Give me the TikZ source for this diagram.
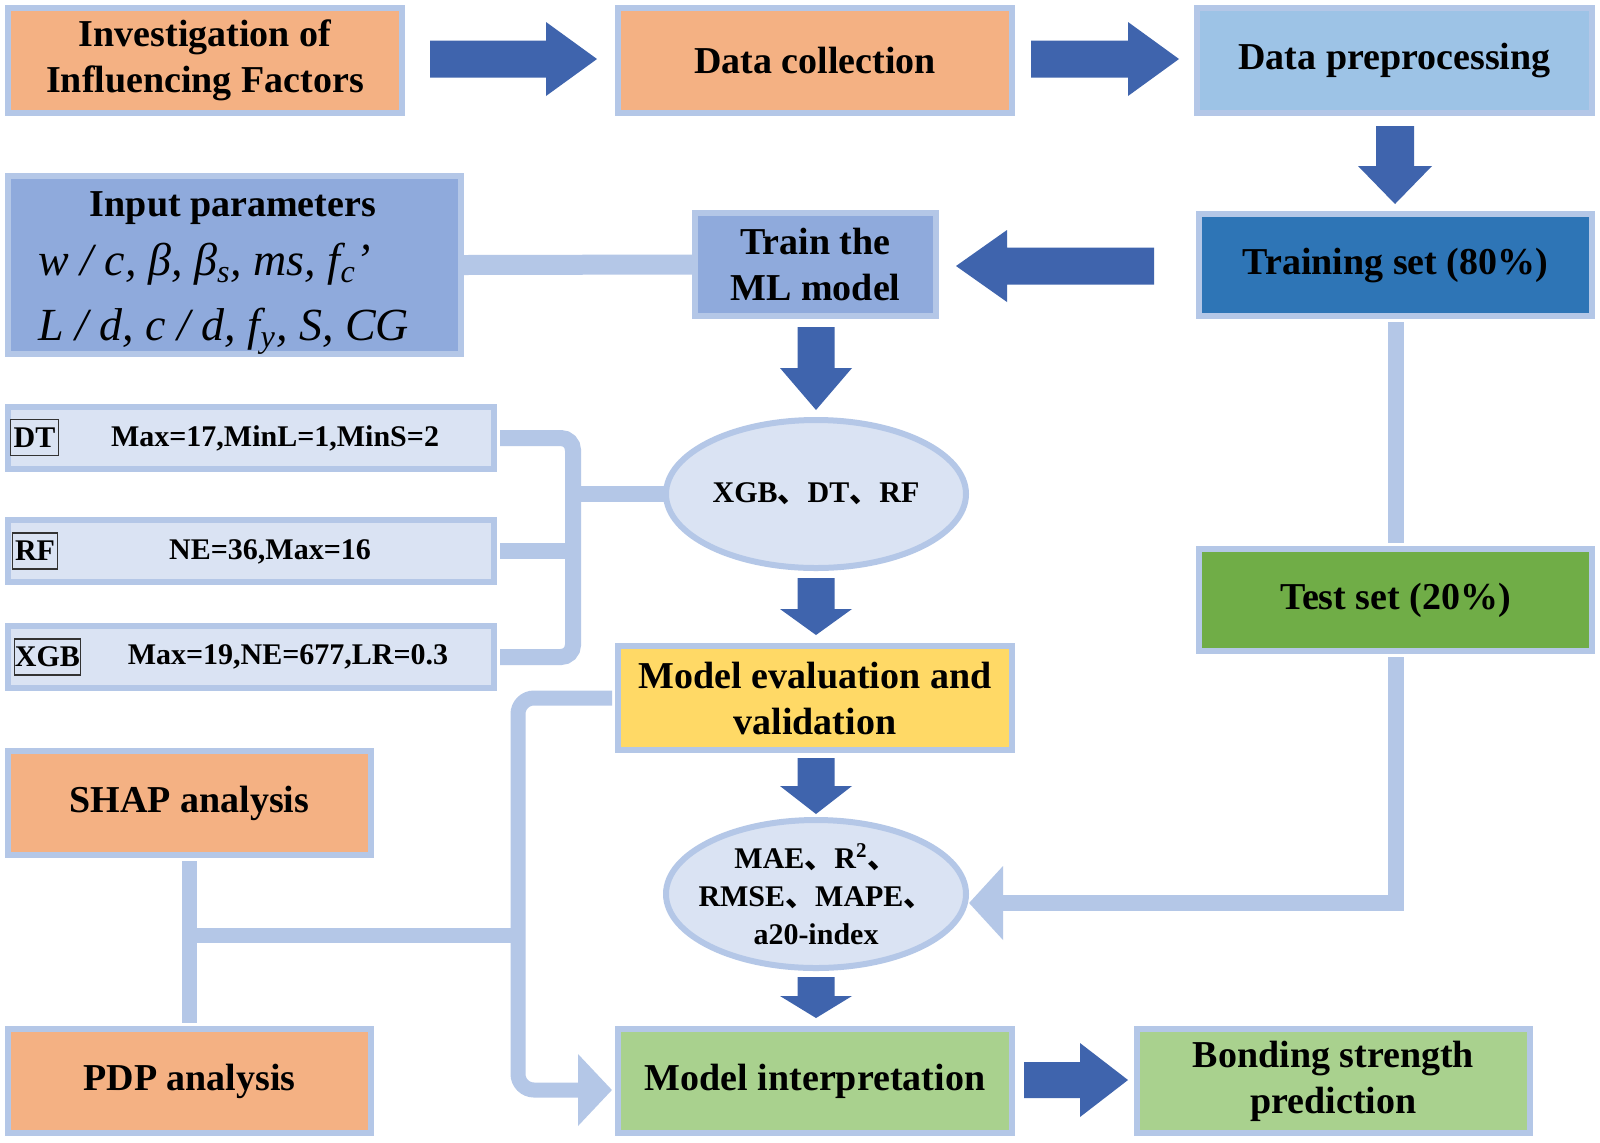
\documentclass[tikz,border=0pt]{standalone}
\usepackage{fontspec}
\setmainfont{Liberation Serif}
\newfontfamily\cjk{Noto Sans CJK SC}
\usetikzlibrary{arrows.meta,shapes.geometric,calc}
\definecolor{bord}{HTML}{B4C7E7}
\definecolor{orng}{HTML}{F4B183}
\definecolor{prepc}{HTML}{9DC3E6}
\definecolor{trainc}{HTML}{2E75B6}
\definecolor{mlc}{HTML}{8FAADC}
\definecolor{lightc}{HTML}{DAE3F3}
\definecolor{yellc}{HTML}{FFD966}
\definecolor{grnc}{HTML}{A9D18E}
\definecolor{testc}{HTML}{70AD47}
\definecolor{barc}{HTML}{3F64AD}
\newcommand{\cm}{{\cjk 、}}
\newcommand\HArr[6]{\fill[barc] (#1,{#3-#4}) -- (#2,{#3-#4}) -- (#2,{#3-#5}) -- (#6,#3) -- (#2,{#3+#5}) -- (#2,{#3+#4}) -- (#1,{#3+#4}) -- cycle;}
\newcommand\VArr[6]{\fill[barc] ({#1-#5},#2) -- ({#1-#5},#3) -- ({#1-#6},#3) -- (#1,#4) -- ({#1+#6},#3) -- ({#1+#5},#3) -- ({#1+#5},#2) -- cycle;}
\tikzset{
  box/.style={draw=bord, line width=3pt, inner sep=0pt, align=center,
    font=\bfseries\fontsize{19}{23}\selectfont},
  ell/.style={ellipse, draw=bord, line width=3pt, fill=lightc, inner sep=0pt,
    minimum width=150pt, minimum height=74pt},
  elltext/.style={inner sep=0pt, align=center, font=\bfseries\fontsize{15}{19}\selectfont},
  pbox/.style={draw=bord, line width=3pt, fill=lightc, minimum width=243pt, minimum height=31pt, inner sep=0pt},
  ptext/.style={inner sep=0pt, font=\bfseries\fontsize{15}{18}\selectfont},
  lab/.style={draw=black!80, line width=0.6pt, inner sep=0pt, minimum height=18pt, fill=lightc,
    font=\bfseries\fontsize{15}{18}\selectfont},
  lconn/.style={draw=bord, line width=8pt},
  formula/.style={inner sep=0pt, anchor=base west, font=\itshape\fontsize{23}{27}\selectfont},
}
\begin{document}
\begin{tikzpicture}[x=0.5pt,y=-0.5pt]
\useasboundingbox[fill=white] (0,0) rectangle (1600,1142);

\coordinate (bk) at (573,494);
\coordinate (jn) at (518,935);
\node[pbox] (dt) at (251,438) {};
\node[pbox] (rf) at (251,551) {};
\node[pbox] (xgb) at (251,657) {};

% ---- nodes
\node[box, fill=orng, minimum width=197pt, minimum height=52.5pt] (inv) at (205,60.5) {Investigation of\\Influencing Factors};
\node[box, fill=orng, minimum width=197pt, minimum height=52.5pt] (col) at (815,60.5) {Data collection};
\node[box, fill=prepc, minimum width=197.5pt, minimum height=52.5pt] (prep) at (1394.5,60.5) {Data preprocessing};
\node[box, fill=trainc, minimum width=196.5pt, minimum height=51pt] (train) at (1395.5,265) {Training set (80\%)};
\node[box, fill=mlc, minimum width=120.5pt, minimum height=51.5pt] (ml) at (815.5,264.5) {Train the\\ML model};
\node[box, fill=mlc, minimum width=226.5pt, minimum height=89pt] (inp) at (234.5,265) {};
\node[box, fill=testc, minimum width=196.5pt, minimum height=51pt] (test) at (1395.5,600) {Test set (20\%)};
\node[ell] (alg) at (816,494) {};
\node[elltext] (algt) at (alg.center) {XGB\cm DT\cm RF};
\node[box, fill=yellc, minimum width=197pt, minimum height=52pt] (eval) at (815,698) {Model evaluation and\\validation};
\node[ell] (met) at (816,894) {};
\node[elltext] (mett) at (met.center) {MAE\cm R\textsuperscript{2}\cm\\RMSE\cm MAPE\cm\\a20-index};
\node[box, fill=grnc, minimum width=197pt, minimum height=52pt] (interp) at (815,1081) {Model interpretation};
\node[box, fill=grnc, minimum width=196.5pt, minimum height=52pt] (bond) at (1333.5,1081) {Bonding strength\\prediction};
\node[box, fill=orng, minimum width=181.5pt, minimum height=52pt] (shap) at (189.5,803) {SHAP analysis};
\node[box, fill=orng, minimum width=181.5pt, minimum height=52pt] (pdp) at (189.5,1081) {PDP analysis};

% input parameter texts
\node[inner sep=0pt, font=\bfseries\fontsize{19}{23}\selectfont] (inpt) at (233,208) {Input parameters};
\node[formula] (f1) at (38,275) {w / c, β, β\textsubscript{s}, ms, f\textsubscript{c}’};
\node[formula] (f2) at (38,340) {L / d, c / d, f\textsubscript{y}, S, CG};

% parameter boxes text
\node[lab, minimum width=24pt] (dtl) at (34.5,437.5) {DT};
\node[lab, minimum width=22.5pt] (rfl) at (35,551) {RF};
\node[lab, minimum width=33pt] (xgbl) at (47.5,657) {XGB};
\node[ptext] (dtt) at (275,438) {Max=17,MinL=1,MinS=2};
\node[ptext] (rft) at (270,552) {NE=36,Max=16};
\node[ptext] (xgbt) at (288,657) {Max=19,NE=677,LR=0.3};

% ---- light connectors
\draw[lconn, line width=10pt] (inp.east) -- (ml.west);
\draw[lconn, rounded corners=6pt] ($(dt.east)+(3,0)$) -- (bk |- dt.east) -- (bk |- xgb.east) -- ($(xgb.east)+(3,0)$);
\draw[lconn] ($(rf.east)+(3,0)$) -- (bk |- rf.east);
\draw[lconn] (bk) -- ($(alg.west)+(2,0)$);
\draw[lconn] ($(train.south)+(0,3)$) -- ($(test.north)+(0,-3)$);
\draw[lconn, -{Triangle[length=17pt,width=36pt]}] ($(test.south)+(0,3)$) |- ($(met.center)+(153,9)$);
\draw[lconn, line width=7.5pt] ($(shap.south)+(0,3)$) -- ($(pdp.north)+(0,-3)$);
\draw[lconn, line width=7.5pt] (shap.south |- jn) -- (jn);
\draw[lconn, line width=7.5pt, rounded corners=8pt, -{Triangle[length=17pt,width=35pt]}] ($(eval.west)+(-3,0)$) -| ($(jn)+(0,155)$) -- ($(interp.west)+(-3,9)$);

% ---- block arrows
\HArr{430}{546}{59}{18.5}{37}{597}
\HArr{1031}{1128}{59}{18.5}{37}{1179}
\HArr{1154}{1007}{266}{18.5}{36}{956}
\HArr{1024}{1080}{1080}{18}{37}{1128}
\VArr{1395}{126}{166}{204}{19}{37}
\VArr{816}{327}{368}{410}{18.5}{36}
\VArr{816}{578}{609}{635}{18.5}{36}
\VArr{816}{758}{786}{814}{18.5}{36}
\VArr{816}{977}{996}{1018}{18.5}{36}
\end{tikzpicture}
\end{document}
